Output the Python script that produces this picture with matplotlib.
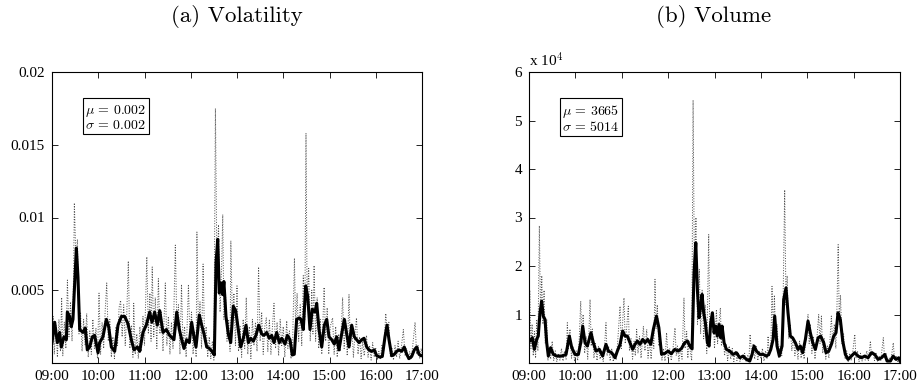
import numpy as np
import matplotlib
matplotlib.use("Agg")
import matplotlib.pyplot as plt

# time axis: minutes after 09:00
hour_ticks = [0, 60, 120, 180, 240, 300, 360, 420, 480]
hour_labels = ['09:00', '10:00', '11:00', '12:00', '13:00', '14:00', '15:00', '16:00', '17:00']

# (a) volatility, raw series (minute, value)
vol_raw = [
    (0, 0.0012), (1.5, 0.0032), (3, 0.0006), (5, 0.0026), (7, 0.0004), (9, 0.0030), (11, 0.0008),
    (12.5, 0.0045), (14, 0.0005), (16, 0.0028), (18, 0.0010), (20, 0.0057), (22, 0.0018), (24, 0.0042),
    (26, 0.0015), (28, 0.0060), (29, 0.0110), (31, 0.0072), (33, 0.0085), (35, 0.0020), (37, 0.0035),
    (39, 0.0008), (41, 0.0030), (43, 0.0012), (45, 0.0034), (47, 0.0004), (49, 0.0022), (51, 0.0006),
    (53, 0.0030), (55, 0.0010), (57, 0.0024), (59, 0.0003), (61, 0.0048), (63, 0.0006), (65, 0.0028),
    (67, 0.0010), (69, 0.0036), (71, 0.0055), (73, 0.0015), (75, 0.0030), (77, 0.0004), (79, 0.0018),
    (81, 0.0003), (83, 0.0025), (85, 0.0012), (87, 0.0038), (89, 0.0043), (91, 0.0018), (93, 0.0040),
    (95, 0.0012), (97, 0.0034), (99, 0.0070), (101, 0.0010), (103, 0.0026), (105, 0.0004), (106, 0.0041),
    (108, 0.0006), (110, 0.0020), (112, 0.0003), (114, 0.0025), (116, 0.0008), (118, 0.0032), (120, 0.0012),
    (123, 0.0073), (125, 0.0020), (127, 0.0048), (128.5, 0.0015), (130, 0.0066), (132, 0.0018), (134, 0.0045),
    (136, 0.0010), (138, 0.0058), (140, 0.0020), (142, 0.0035), (144, 0.0008), (147, 0.0055), (149, 0.0012),
    (151, 0.0032), (153, 0.0006), (155, 0.0028), (157, 0.0010), (160, 0.0081), (162, 0.0025), (164, 0.0040),
    (166, 0.0006), (168, 0.0054), (170, 0.0012), (172, 0.0025), (174, 0.0004), (177, 0.0054), (179, 0.0015),
    (181, 0.0035), (183, 0.0006), (185, 0.0022), (187, 0.0004), (188, 0.0090), (190, 0.0020), (192, 0.0042),
    (194, 0.0010), (196, 0.0068), (198, 0.0015), (200, 0.0025), (202, 0.0004), (204, 0.0018), (206, 0.0003),
    (208, 0.0015), (210, 0.0002), (212, 0.0175), (214, 0.0060), (216, 0.0095), (218, 0.0035), (220, 0.0065),
    (221.5, 0.0102), (223, 0.0030), (225, 0.0050), (227, 0.0015), (229, 0.0030), (231, 0.0008), (232, 0.0084),
    (234, 0.0030), (236, 0.0048), (238, 0.0012), (240, 0.0053), (242, 0.0008), (244, 0.0025), (246, 0.0004),
    (248, 0.0030), (250, 0.0010), (252, 0.0045), (254, 0.0006), (256, 0.0025), (258, 0.0003), (260, 0.0030),
    (262, 0.0012), (264, 0.0028), (266, 0.0008), (268, 0.0066), (270, 0.0015), (272, 0.0035), (274, 0.0006),
    (276, 0.0025), (278, 0.0031), (280, 0.0008), (282, 0.0030), (284, 0.0006), (286, 0.0025), (288, 0.0041),
    (290, 0.0010), (292, 0.0028), (294, 0.0005), (296, 0.0030), (298, 0.0012), (300, 0.0025), (302, 0.0004),
    (304.5, 0.0029), (306, 0.0010), (308, 0.0022), (310, 0.0003), (312, 0.0010), (314.5, 0.0072), (316, 0.0025),
    (318, 0.0048), (320, 0.0015), (322, 0.0040), (324, 0.0012), (326, 0.0060), (328, 0.0030), (329.5, 0.0158),
    (331, 0.0040), (333, 0.0065), (335, 0.0015), (337, 0.0050), (338.5, 0.0020), (340, 0.0067), (342, 0.0015),
    (344, 0.0045), (346, 0.0010), (348, 0.0030), (350, 0.0006), (353, 0.0052), (355, 0.0015), (357, 0.0038),
    (359, 0.0006), (361, 0.0025), (364, 0.0031), (366, 0.0006), (368, 0.0025), (370, 0.0004), (372, 0.0020),
    (374, 0.0008), (377, 0.0045), (379, 0.0010), (381, 0.0030), (383, 0.0005), (385.3, 0.0047), (387, 0.0012),
    (389, 0.0025), (391, 0.0004), (393, 0.0020), (395, 0.0031), (397, 0.0006), (399, 0.0018), (401, 0.0003),
    (403, 0.0015), (405, 0.0005), (408, 0.0019), (410, 0.0004), (412, 0.0012), (414, 0.0002), (416, 0.0014),
    (418, 0.0004), (420, 0.0010), (422, 0.0002), (424, 0.0008), (426, 0.0003), (428, 0.0012), (430, 0.0005),
    (433, 0.0034), (435, 0.0020), (437, 0.0028), (439, 0.0004), (441, 0.0010), (443, 0.0002), (445, 0.0012),
    (447, 0.0004), (449, 0.0015), (451, 0.0003), (453, 0.0010), (455.8, 0.0023), (458, 0.0005), (460, 0.0010),
    (462, 0.0002), (464, 0.0008), (466, 0.0003), (468, 0.0012), (471, 0.0028), (473, 0.0006), (475, 0.0012),
    (477, 0.0003), (479, 0.0010), (480, 0.0005),
]

# (a) volatility, smoothed series
vol_smooth = [
    (0, 0.0014), (3.5, 0.0028), (6.9, 0.0014), (9.9, 0.0021), (12, 0.0011), (15.6, 0.0018), (18.6, 0.0016),
    (19.9, 0.0035), (22.9, 0.0032), (25, 0.0025), (27.2, 0.0030), (31.6, 0.0079), (33.7, 0.0059),
    (35.9, 0.0023), (40.2, 0.0021), (43.2, 0.0024), (45.8, 0.0009), (48.9, 0.0011), (52.3, 0.0018),
    (55.3, 0.0019), (59.7, 0.0007), (61.8, 0.0014), (66.1, 0.0018), (70.5, 0.0030), (73.5, 0.0025),
    (77, 0.0011), (81.3, 0.0008), (85.6, 0.0026), (90, 0.0032), (94.3, 0.0032), (98.6, 0.0027),
    (102.9, 0.0016), (106.4, 0.0009), (110.7, 0.0011), (113.7, 0.0008), (118, 0.0021), (122.3, 0.0026),
    (126.7, 0.0035), (129.7, 0.0028), (133.2, 0.0035), (136.6, 0.0026), (139.7, 0.0036), (144, 0.0021),
    (148.3, 0.0023), (152.6, 0.0019), (158.2, 0.0016), (161.8, 0.0035), (165.2, 0.0023), (168.3, 0.0016),
    (171.2, 0.0010), (174.7, 0.0016), (178.1, 0.0014), (181.2, 0.0028), (184.2, 0.0018), (186.8, 0.0011),
    (191.1, 0.0033), (194.2, 0.0026), (197.2, 0.0020), (200.7, 0.0011), (204.1, 0.0010), (207.6, 0.0008),
    (210.6, 0.00055), (212.8, 0.0069), (215, 0.0085), (217, 0.0048), (219.2, 0.0055), (221.4, 0.0047),
    (223, 0.0056), (225.7, 0.0032), (228.7, 0.0020), (231.8, 0.0014), (235.2, 0.0039), (238.3, 0.0036),
    (241.7, 0.0023), (244.8, 0.0011), (248.2, 0.0017), (251.7, 0.0026), (254.7, 0.0014), (257.8, 0.0017),
    (261.1, 0.0015), (264.6, 0.0019), (268.2, 0.0026), (272, 0.0020), (275, 0.0019), (278.5, 0.0021),
    (281.9, 0.0017), (285, 0.0019), (288, 0.0014), (291.5, 0.0021), (294.9, 0.0014), (298, 0.0017),
    (302.3, 0.0013), (305.3, 0.0019), (308.8, 0.0016), (311.7, 0.00055), (314.3, 0.0006), (317.4, 0.0030),
    (320.8, 0.0031), (323, 0.0030), (326, 0.0023), (329.1, 0.0053), (331.7, 0.0046), (334.7, 0.0023),
    (337.7, 0.0037), (341.2, 0.0035), (343.4, 0.0041), (346.4, 0.0023), (349.9, 0.0011), (353.3, 0.0026),
    (356.4, 0.0030), (359.4, 0.0018), (362.9, 0.0016), (366.2, 0.0013), (369.3, 0.0018), (372.3, 0.0009),
    (375.8, 0.0020), (379.2, 0.0030), (382.3, 0.0020), (385.3, 0.0011), (388.8, 0.0026), (392.2, 0.0018),
    (395.3, 0.0016), (398.3, 0.0014), (401.8, 0.0016), (404.8, 0.0017), (408.3, 0.0011), (411.2, 0.0009),
    (414.8, 0.0008), (418.1, 0.0009), (421.2, 0.0005), (425.5, 0.0004), (428.5, 0.00045), (432, 0.0018),
    (434.6, 0.0026), (437.2, 0.0016), (440.7, 0.0005), (444.1, 0.0006), (447.2, 0.0008), (450.2, 0.0009),
    (453.7, 0.0008), (457, 0.0011), (460.1, 0.0006), (463.1, 0.0003), (466.6, 0.00045), (470, 0.0009),
    (473.1, 0.0011), (476.1, 0.0006), (478.7, 0.0005), (480, 0.0005),
]

# (b) volume, raw series (minute, shares)
volu_raw = [
    (0, 2500), (1, 15000), (2.5, 3000), (4, 8000), (5.5, 1500), (7, 6500), (8.5, 1000), (10, 9000),
    (11.5, 2500), (13.4, 28300), (15, 9000), (16.5, 18000), (18, 8000), (19.5, 15000), (21, 4000),
    (23, 9000), (24.5, 500), (26, 3000), (28, 800), (30, 4500), (32, 500), (34, 2500), (36, 300),
    (38, 2000), (40, 600), (42, 3000), (44, 400), (46, 2500), (48, 800), (49.6, 8300), (51, 3000),
    (53, 7000), (55, 1000), (57, 3500), (59, 300), (61, 2500), (63, 500), (65, 5000), (66.9, 12760),
    (68.5, 4000), (70, 10000), (72, 2000), (74, 5500), (76, 800), (77.5, 6000), (79, 13100), (80.5, 3500),
    (82, 7000), (84, 1000), (86, 4000), (88, 500), (90, 3500), (92, 800), (94, 2500), (96, 300),
    (98, 4000), (99.6, 8300), (101, 1500), (103, 3500), (105, 400), (107, 3000), (109, 300), (111, 2000),
    (113, 800), (115, 5000), (117.8, 11700), (119.5, 3000), (121, 8000), (122.9, 13440), (124.5, 4000),
    (126.5, 7500), (128.5, 11700), (130, 2500), (132, 5000), (134, 800), (136, 4500), (137.5, 1500),
    (139.3, 6940), (141, 2000), (143, 5500), (145, 1000), (148, 7600), (150, 2500), (152.3, 6940),
    (154, 1000), (156, 4500), (158, 800), (160, 6000), (161.5, 3000), (163, 17250), (164.5, 7000),
    (166, 12000), (168, 3500), (170, 5000), (172, 600), (174, 3000), (176, 400), (178, 6250), (180, 800),
    (182, 3000), (184, 500), (186, 2500), (188.9, 7260), (190.5, 1500), (192, 3500), (194, 400),
    (196, 3000), (198, 800), (200.5, 13440), (202, 3000), (204, 6500), (205.5, 1000), (207, 4500),
    (209, 2000), (210.5, 500), (212.3, 54200), (214, 18000), (216, 30000), (218, 8000), (220.4, 19300),
    (222, 6000), (224, 15000), (226, 5000), (228, 12000), (230, 2000), (232.5, 26500), (234, 4000),
    (236, 9000), (238.2, 10360), (240, 3000), (242.5, 11030), (244, 4000), (246, 8500), (247.6, 11370),
    (249, 3500), (251, 7000), (253, 1500), (255, 4000), (257, 500), (259, 3500), (261, 800), (263, 3000),
    (265, 300), (267, 2500), (269, 500), (271, 2000), (273, 300), (275, 1500), (277, 600), (279, 2000),
    (281, 200), (283, 1500), (284.5, 400), (286, 5900), (288, 2000), (290, 4000), (292, 800), (294, 3500),
    (296, 500), (298, 2500), (300, 900), (302, 3000), (304, 400), (306, 2500), (308, 800), (309.3, 5540),
    (311, 1500), (313, 4000), (314.4, 15800), (316, 6000), (317.5, 14000), (319, 5000), (321, 8000),
    (323, 1000), (325, 3500), (327, 1500), (328.5, 10000), (330.8, 35700), (332.5, 12000), (334, 18000),
    (336, 5000), (338, 8000), (340, 2500), (342, 5500), (344, 1500), (346, 4000), (348, 800), (350, 4500),
    (352, 1000), (354, 3000), (356, 800), (358, 5000), (361, 10000), (362.5, 4000), (364, 8000),
    (366, 2000), (368, 5500), (370, 800), (372, 4000), (374.8, 10000), (376.5, 4000), (378.3, 9670),
    (380, 2000), (382, 5000), (384, 800), (386, 3500), (388, 1000), (389.5, 5000), (391.2, 9670),
    (393, 4000), (395, 8000), (397, 3000), (398.5, 12000), (400, 24400), (401.5, 8000), (403, 14000),
    (405, 4000), (407, 6000), (409, 800), (411, 2500), (413, 300), (415, 2000), (417, 500), (419, 2500),
    (421.5, 5900), (423, 1000), (425, 2500), (427, 300), (429, 2000), (431, 400), (433, 1500), (435, 600),
    (437, 2500), (439, 400), (441.7, 4530), (443, 1500), (445, 2500), (447, 500), (449, 2000), (451, 300),
    (453, 1500), (455, 400), (458.4, 5220), (460, 1000), (462, 2000), (464, 200), (466, 1000), (468, 300),
    (471.3, 4180), (473, 500), (475, 1500), (477, 300), (479, 1200), (480, 500),
]

# (b) volume, smoothed series
volu_smooth = [
    (0, 4500), (1.3, 4530), (4.3, 5220), (6.9, 2810), (9.9, 4870), (12, 5560), (14.2, 10360),
    (16.4, 12760), (18.5, 9670), (20.7, 8980), (22.9, 4180), (25, 1430), (28, 3150), (31.5, 1760),
    (35.8, 1430), (42.3, 1430), (47.9, 1760), (52.2, 5560), (55.3, 3150), (59.6, 1760), (63.9, 1760),
    (66.9, 4180), (69.5, 7600), (72.5, 4180), (75.5, 3490), (80.2, 6250), (83.2, 4180), (86.7, 2460),
    (91, 2810), (95.3, 1430), (99.6, 3840), (102.7, 2460), (107, 2120), (111.3, 1080), (114.3, 2460),
    (117.8, 3840), (121.2, 6600), (124.2, 5560), (127.2, 5560), (130.7, 4180), (134.1, 2810),
    (137.1, 3840), (140.2, 4530), (143.6, 3840), (147.1, 4870), (150.1, 4180), (153.6, 4870),
    (157.5, 3840), (160.9, 6940), (164.9, 9670), (168, 7300), (171.5, 1800), (176, 2000), (180, 2460),
    (184, 1900), (188.5, 2800), (193, 2460), (197.3, 3000), (201.4, 4180), (205, 4530), (208, 3490),
    (211, 2900), (213.5, 18500), (215.8, 24800), (217.9, 15000), (220, 9330), (222.2, 11740),
    (223.9, 14140), (226, 10360), (228.2, 8300), (230.8, 4180), (233, 3490), (235.1, 8300),
    (237.3, 10360), (239.4, 6230), (241.6, 7610), (243.7, 5540), (245.9, 7950), (248, 5190),
    (249.8, 7610), (252.4, 4180), (255.4, 2800), (259.7, 2460), (264, 1770), (268.4, 2120), (272.7, 1080),
    (277, 1430), (281.3, 740), (285.6, 400), (288.6, 1770), (291.2, 3490), (294.3, 2460), (298.6, 1770),
    (302.9, 1770), (307.2, 1430), (310.2, 1770), (312.8, 2800), (315.8, 4870), (317.9, 9670),
    (320.9, 3490), (323.9, 1430), (327.4, 3490), (329.5, 13080), (332.5, 15480), (335.1, 10360),
    (338.1, 5540), (341.1, 5190), (344.6, 4180), (348.1, 2800), (351.1, 3490), (354.1, 2120),
    (357.6, 4870), (361, 8640), (364, 6230), (367.1, 4180), (370.5, 2800), (374, 5190), (377.4, 5540),
    (381.3, 4180), (384.3, 2120), (387.8, 2460), (391.2, 3830), (394.2, 5540), (397.2, 6230),
    (399.8, 10360), (402.8, 8980), (405.9, 4530), (409.3, 1770), (412.8, 740), (417.1, 1430),
    (421.4, 2120), (425.7, 1430), (430.1, 1080), (434.4, 1430), (438.7, 1080), (443, 2120), (447.3, 1770),
    (451.6, 740), (456, 1080), (460.3, 1770), (463.3, 400), (467.6, 400), (471.1, 1430), (475, 740),
    (478.4, 1080), (480, 400),
]

vol_ticks = [0.005, 0.01, 0.015, 0.02]
vol_ticklabels = ['0.005', '0.01', '0.015', '0.02']
volu_ticks = [10000, 20000, 30000, 40000, 50000, 60000]
volu_ticklabels = ['1', '2', '3', '4', '5', '6']

vol_stats = '$\\mu\\,=\\,0.002$\n$\\sigma\\,=\\,0.002$'
volu_stats = '$\\mu\\,=\\,3665$\n$\\sigma\\,=\\,5014$'

plt.rcParams['font.family'] = ['Liberation Serif', 'DejaVu Serif']
plt.rcParams['mathtext.fontset'] = 'cm'

fig = plt.figure(figsize=(9.22, 3.91), dpi=100)
ax1 = fig.add_axes([52 / 922, 28 / 391, 370 / 922, 291 / 391])
ax2 = fig.add_axes([529 / 922, 28 / 391, 371 / 922, 291 / 391])


def draw(ax, raw, smooth, ylim, yticks, yticklabels, stats):
    t, v = zip(*raw)
    ax.plot(t, v, ':', color='0.3', lw=0.7)
    ts, vs = zip(*smooth)
    ax.plot(ts, vs, '-', color='k', lw=2.2)
    ax.set_xlim(0, 480)
    ax.set_ylim(*ylim)
    ax.set_xticks(hour_ticks)
    ax.set_xticklabels(hour_labels)
    ax.set_yticks(yticks)
    ax.set_yticklabels(yticklabels)
    ax.tick_params(direction='in', top=True, right=True, length=4, width=0.6,
                   labelsize=11, pad=5)
    for s in ax.spines.values():
        s.set_linewidth(0.8)
    ax.text(0.09, 0.895, stats, transform=ax.transAxes, ha='left', va='top',
            fontsize=10, linespacing=1.05,
            bbox=dict(boxstyle='square,pad=0.15', fc='white', ec='black', lw=0.8))


draw(ax1, vol_raw, vol_smooth, (0, 0.02), vol_ticks, vol_ticklabels, vol_stats)
draw(ax2, volu_raw, volu_smooth, (0, 60000), volu_ticks, volu_ticklabels, volu_stats)

ax2.text(0.0, 1.008, 'x 10$^{4}$', transform=ax2.transAxes, ha='left', va='bottom', fontsize=11)

fig.text(237 / 922, 1 - 16 / 391, '(a) Volatility', ha='center', va='center',
         fontsize=16.5, family='cmr10')
fig.text(714 / 922, 1 - 16 / 391, '(b) Volume', ha='center', va='center',
         fontsize=16.5, family='cmr10')

fig.savefig('out.png', dpi=100)
